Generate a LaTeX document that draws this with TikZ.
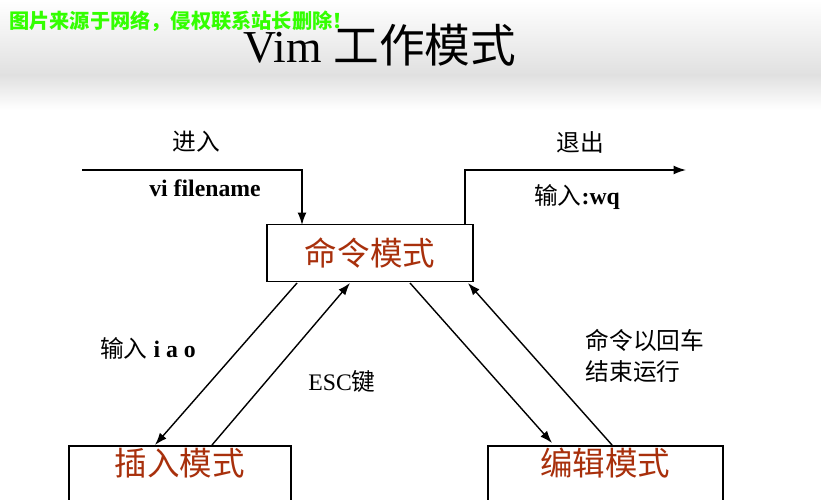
\documentclass[tikz,border=0pt]{standalone}
\usepackage{fontspec}
\setmainfont{Liberation Serif}
\newfontfamily\cjk{Noto Sans CJK SC}
\usetikzlibrary{arrows.meta}
\definecolor{boxred}{HTML}{A8300C}
\begin{document}
\begin{tikzpicture}[x=0.02cm,y=-0.02cm,
  box/.style={draw,line width=1pt,fill=white,inner sep=0,text=boxred,font=\cjk\fontsize{18.5}{22}\selectfont},
  lab/.style={font=\fontsize{13.5}{16}\selectfont,align=left},
  arr/.style={line width=0.8pt,-{Latex[length=7pt,width=5pt]}}]
\useasboundingbox (0,0) rectangle (821,500);
\fill[white] (0,0) rectangle (821,500);
\shade[top color=white,bottom color=black!12] (0,0) rectangle (821,75);
\shade[top color=black!12,bottom color=white] (0,75) rectangle (821,110);
\node[anchor=west,text=green!80!yellow,font=\cjk\bfseries\fontsize{11.5}{13}\selectfont] (wm) at (3,21) {图片来源于网络，侵权联系站长删除！};
\node[font=\fontsize{26}{30}\selectfont] (title) at (380,45) {Vim {\cjk 工作模式}};
\node[box,minimum width=206*0.02cm,minimum height=57*0.02cm] (cmd) at (370,253) {命令模式};
\node[box,minimum width=222*0.02cm,minimum height=70*0.02cm,anchor=north west] (ins) at (68,445) {\raisebox{2.2ex}{插入模式}};
\node[box,minimum width=235*0.02cm,minimum height=70*0.02cm,anchor=north west] (edt) at (487,445) {\raisebox{2.2ex}{编辑模式}};
\coordinate (in0) at (82,170);
\coordinate (in1) at (302,170);
\draw[arr] (in0) -- (in1) -- (302,225);
\coordinate (out1) at (465,170);
\coordinate (out2) at (686,170);
\draw[arr] (465,225) -- (out1) -- (out2);
\node[lab,font=\cjk\fontsize{13.5}{16}\selectfont] (l1) at (196,142) {进入};
\node[lab,font=\bfseries\fontsize{13.5}{16}\selectfont] (l2) at (205,188) {vi filename};
\node[lab,font=\cjk\fontsize{13.5}{16}\selectfont] (l3) at (580,142) {退出};
\node[lab] (l4) at (577,197) {{\cjk 输入}\textbf{:wq}};
\draw[arr] (297,283) -- (155,445);
\draw[arr] (212,445) -- (350,283);
\draw[arr] (410,283) -- (552,443);
\draw[arr] (612,445) -- (468,283);
\node[lab] (l5) at (148,348) {{\cjk 输入}\textbf{ i a o}};
\node[lab] (l6) at (342,382) {ESC{\cjk 键}};
\node[lab,font=\cjk\fontsize{13.5}{18}\selectfont] (l7) at (645,356) {命令以回车\\结束运行};
\end{tikzpicture}
\end{document}
